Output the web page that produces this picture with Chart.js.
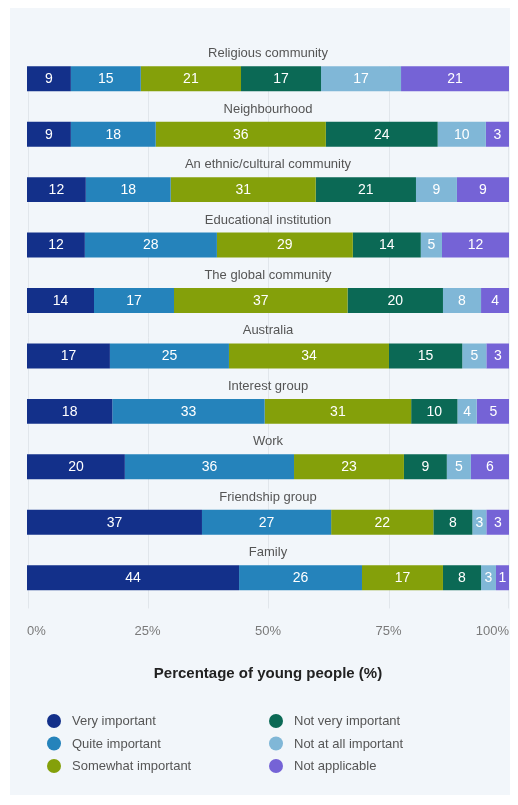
<!DOCTYPE html>
<html>
<head>
<meta charset="utf-8">
<script src="https://cdn.jsdelivr.net/npm/chart.js@4.4.1/dist/chart.umd.min.js"></script>
<style>
  html, body { margin: 0; padding: 0; background: #ffffff; }
  canvas { display: block; }
</style>
</head>
<body>
<canvas id="c" width="518" height="805"></canvas>
<script>
// ---- Data ----
const categories = [
  "Religious community", "Neighbourhood", "An ethnic/cultural community",
  "Educational institution", "The global community", "Australia",
  "Interest group", "Work", "Friendship group", "Family"
];
const seriesNames = [
  "Very important", "Quite important", "Somewhat important",
  "Not very important", "Not at all important", "Not applicable"
];
// bar lengths (percent)
const veryImportant      = [9.1, 9.1, 12.2, 12.0, 13.9, 17.2, 17.7, 20.3, 36.3, 44.0];
const quiteImportant     = [14.5, 17.6, 17.6, 27.4, 16.6, 24.7, 31.6, 35.1, 26.8, 25.5];
const somewhatImportant  = [20.8, 35.3, 30.1, 28.2, 36.0, 33.2, 30.4, 22.8, 21.2, 16.8];
const notVeryImportant   = [16.6, 23.2, 20.8, 14.1, 19.8, 15.2, 9.6, 8.9, 8.1, 7.9];
const notAtAllImportant  = [16.6, 10.0, 8.5, 4.4, 7.9, 5.0, 4.0, 5.0, 2.9, 3.1];
const notApplicable      = [22.4, 4.8, 10.8, 13.9, 5.8, 4.8, 6.9, 7.9, 4.8, 2.7];
// value labels printed on the bars
const veryImportantLabels     = [9, 9, 12, 12, 14, 17, 18, 20, 37, 44];
const quiteImportantLabels    = [15, 18, 18, 28, 17, 25, 33, 36, 27, 26];
const somewhatImportantLabels = [21, 36, 31, 29, 37, 34, 31, 23, 22, 17];
const notVeryImportantLabels  = [17, 24, 21, 14, 20, 15, 10, 9, 8, 8];
const notAtAllImportantLabels = [17, 10, 9, 5, 8, 5, 4, 5, 3, 3];
const notApplicableLabels     = [21, 3, 9, 12, 4, 3, 5, 6, 3, 1];
const tickValues = [0, 25, 50, 75, 100];
const axisTitle = "Percentage of young people (%)";

const seriesValues = [veryImportant, quiteImportant, somewhatImportant,
                      notVeryImportant, notAtAllImportant, notApplicable];
const seriesLabels = [veryImportantLabels, quiteImportantLabels, somewhatImportantLabels,
                      notVeryImportantLabels, notAtAllImportantLabels, notApplicableLabels];
const colors = ["#13308a", "#2583bb", "#84a00a", "#0b6955", "#80b7d7", "#7563d6"];

const FONT = "'Liberation Sans', Arial, Helvetica, sans-serif";
Chart.defaults.font.family = FONT;

const panelPlugin = {
  id: 'panel',
  beforeDraw(chart) {
    const ctx = chart.ctx;
    ctx.save();
    ctx.fillStyle = '#f2f6fa';
    ctx.fillRect(10, 8, 500, 787);
    ctx.restore();
  }
};

const gridPlugin = {
  id: 'customGrid',
  beforeDatasetsDraw(chart) {
    const ctx = chart.ctx;
    const xs = chart.scales.x;
    const first = chart.getDatasetMeta(0).data[0];
    const top = first.y - first.height / 2;
    const bottom = chart.chartArea.bottom + 3;
    ctx.save();
    ctx.strokeStyle = '#e1e6eb';
    ctx.lineWidth = 1;
    tickValues.forEach(v => {
      let x = Math.round(xs.getPixelForValue(v)) + 0.5;
      if (v === 0) x += 1;
      if (v === 100) x -= 1;
      ctx.beginPath();
      ctx.moveTo(x, top);
      ctx.lineTo(x, bottom);
      ctx.stroke();
    });
    ctx.restore();
  }
};

const labelPlugin = {
  id: 'labels',
  afterDatasetsDraw(chart) {
    const ctx = chart.ctx;
    ctx.save();
    // value labels
    ctx.font = '14px ' + FONT;
    ctx.fillStyle = '#ffffff';
    ctx.textAlign = 'center';
    ctx.textBaseline = 'middle';
    chart.data.datasets.forEach((ds, di) => {
      const meta = chart.getDatasetMeta(di);
      meta.data.forEach((el, i) => {
        const cx = (el.x + el.base) / 2;
        ctx.fillText(String(seriesLabels[di][i]), cx, el.y + 0.5);
      });
    });
    // category labels above bars
    const xs = chart.scales.x;
    const mid = (xs.left + xs.right) / 2;
    ctx.font = '13px ' + FONT;
    ctx.fillStyle = '#555555';
    chart.getDatasetMeta(0).data.forEach((el, i) => {
      ctx.fillText(categories[i], mid, el.y - 25);
    });
    ctx.restore();
  }
};

const legendPlugin = {
  id: 'customLegend',
  afterDraw(chart) {
    const ctx = chart.ctx;
    const colX = [54, 276];
    const rowY = [721, 743.5, 766];
    ctx.save();
    ctx.font = '13px ' + FONT;
    ctx.textAlign = 'left';
    ctx.textBaseline = 'middle';
    chart.data.datasets.forEach((ds, i) => {
      const col = Math.floor(i / 3), row = i % 3;
      const x = colX[col], y = rowY[row];
      ctx.beginPath();
      ctx.fillStyle = ds.backgroundColor;
      ctx.arc(x, y, 7, 0, Math.PI * 2);
      ctx.fill();
      ctx.fillStyle = '#555555';
      ctx.fillText(ds.label, x + 18, y + 0.5);
    });
    ctx.restore();
  }
};

new Chart(document.getElementById('c'), {
  type: 'bar',
  data: {
    labels: categories,
    datasets: seriesNames.map((name, i) => ({
      label: name,
      data: seriesValues[i],
      backgroundColor: colors[i],
      borderWidth: 0,
      barPercentage: 0.45,
      categoryPercentage: 1.0
    }))
  },
  options: {
    indexAxis: 'y',
    responsive: false,
    animation: false,
    devicePixelRatio: 1,
    layout: { padding: { left: 27, right: 9, top: 51, bottom: 122 } },
    plugins: { legend: { display: false }, tooltip: { enabled: false } },
    scales: {
      x: {
        stacked: true,
        min: 0, max: 100,
        border: { display: false },
        grid: { display: false, drawTicks: false },
        afterBuildTicks(scale) { scale.ticks = tickValues.map(v => ({ value: v })); },
        afterFit(scale) { scale.paddingLeft = 0; scale.paddingRight = 0; },
        ticks: {
          align: 'inner',
          padding: 18,
          color: '#7a7a7a',
          font: { size: 13 },
          callback: v => v + '%'
        },
        title: {
          display: true,
          text: axisTitle,
          color: '#222222',
          font: { size: 15, weight: 'bold' },
          padding: { top: 8, bottom: 0 }
        }
      },
      y: {
        stacked: true,
        display: false
      }
    }
  },
  plugins: [panelPlugin, gridPlugin, labelPlugin, legendPlugin]
});
</script>
</body>
</html>
